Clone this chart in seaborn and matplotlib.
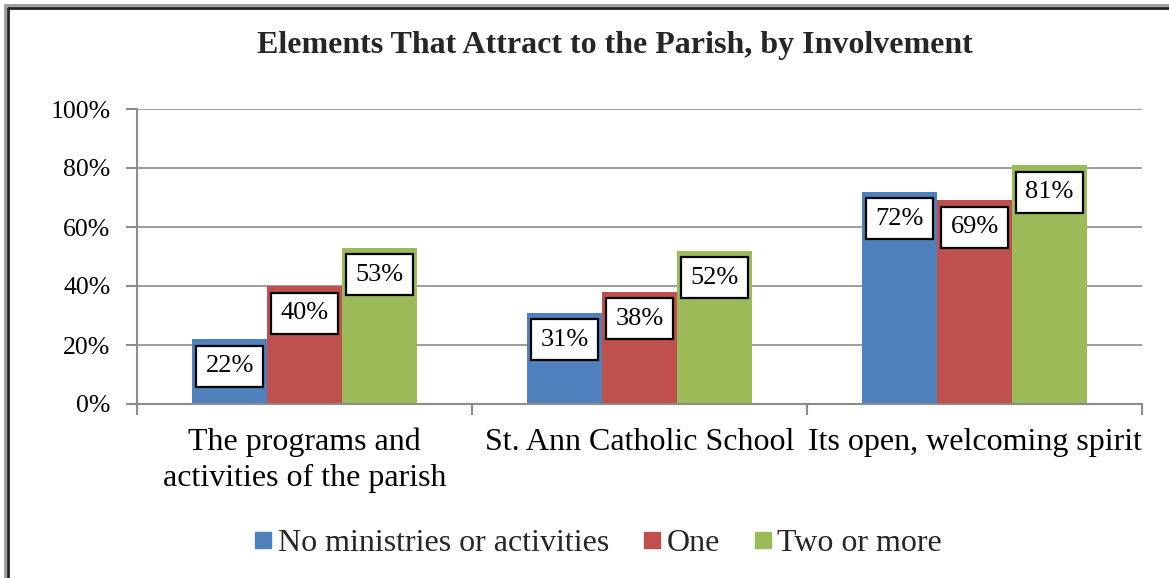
import matplotlib
matplotlib.use("Agg")
import matplotlib.pyplot as plt
import seaborn as sns
import pandas as pd
from matplotlib.lines import Line2D
from matplotlib.ticker import FixedLocator, PercentFormatter

categories = ["The programs and\nactivities of the parish",
              "St. Ann Catholic School",
              "Its open, welcoming spirit"]
groups = ["No ministries or activities", "One", "Two or more"]
no_ministries = [22, 31, 72]
one = [40, 38, 69]
two_or_more = [53, 52, 81]
colors = ["#4F81BD", "#C0504D", "#9BBB59"]
y_ticks = [0, 20, 40, 60, 80, 100]

values = {groups[0]: no_ministries, groups[1]: one, groups[2]: two_or_more}
df = pd.DataFrame([
    {"category": c, "group": g, "value": values[g][i]}
    for g in groups for i, c in enumerate(categories)
])

sns.set_theme(style="white")
plt.rcParams["font.family"] = ["Liberation Serif", "DejaVu Serif"]

fig = plt.figure(figsize=(11.69, 5.78), dpi=100)
ax = fig.add_axes([137 / 1169, 1 - 404 / 578, (1142 - 137) / 1169, (404 - 109) / 578])

sns.barplot(data=df, x="category", y="value", hue="group", order=categories,
            hue_order=groups, palette=colors, width=0.67, gap=0,
            saturation=1, ax=ax, legend=False, edgecolor="none")

ax.set_xlim(-0.5, 2.5)
ax.set_ylim(0, 100)
ax.set_xlabel("")
ax.set_ylabel("")
ax.yaxis.set_major_locator(FixedLocator(y_ticks))
ax.yaxis.set_major_formatter(PercentFormatter(decimals=0))
grid_c = "#8C8C8C"
ax.grid(axis="y", color=grid_c, lw=1.2)
ax.set_axisbelow(True)

for s in ["top", "right"]:
    ax.spines[s].set_visible(False)
for s in ["left", "bottom"]:
    ax.spines[s].set_color(grid_c)
    ax.spines[s].set_linewidth(1.5)

ax.tick_params(axis="y", which="major", left=True, length=8, width=1.5,
               color=grid_c, labelsize=18.5, pad=11, labelcolor="black")
ax.tick_params(axis="x", which="major", length=0, labelsize=23, pad=17,
               labelcolor="black")
ax.xaxis.set_minor_locator(FixedLocator([-0.5, 0.5, 1.5, 2.5]))
ax.tick_params(axis="x", which="minor", bottom=True, length=8, width=1.5,
               color=grid_c)
for lbl in ax.get_xticklabels():
    lbl.set_linespacing(1.3)

# value labels in boxes just inside the bar tops
for container, g in zip(ax.containers, groups):
    for bar, v in zip(container, values[g]):
        x = bar.get_x() + bar.get_width() / 2
        ax.annotate(f"{v}%", xy=(x, v), xytext=(0, -27),
                    textcoords="offset pixels", ha="center", va="center",
                    fontsize=19, color="black",
                    bbox=dict(boxstyle="square,pad=0.36", fc="white",
                              ec="black", lw=1.6))

fig.text(615 / 1169, 1 - 45 / 578,
         "Elements That Attract to the Parish, by Involvement",
         ha="center", va="center", fontsize=23, fontweight="bold")

handles = [Line2D([], [], marker="s", ls="none", markersize=12,
                  markerfacecolor=c, markeredgecolor=c) for c in colors]
fig.legend(handles, groups, loc="center", bbox_to_anchor=(597 / 1169, 1 - 543 / 578),
           ncol=3, frameon=False, fontsize=23, handletextpad=0.1,
           columnspacing=1.0, handlelength=0.7)

# double frame around the chart
for off, lw, col in [(5, 2.0, "#9A9A9A"), (8, 2.0, "#222222")]:
    fig.add_artist(Line2D([off / 1169, off / 1169], [1 - off / 578, 0],
                          transform=fig.transFigure, color=col, lw=lw))
    fig.add_artist(Line2D([off / 1169, 1], [1 - off / 578, 1 - off / 578],
                          transform=fig.transFigure, color=col, lw=lw))

fig.savefig("out.png", dpi=100)
